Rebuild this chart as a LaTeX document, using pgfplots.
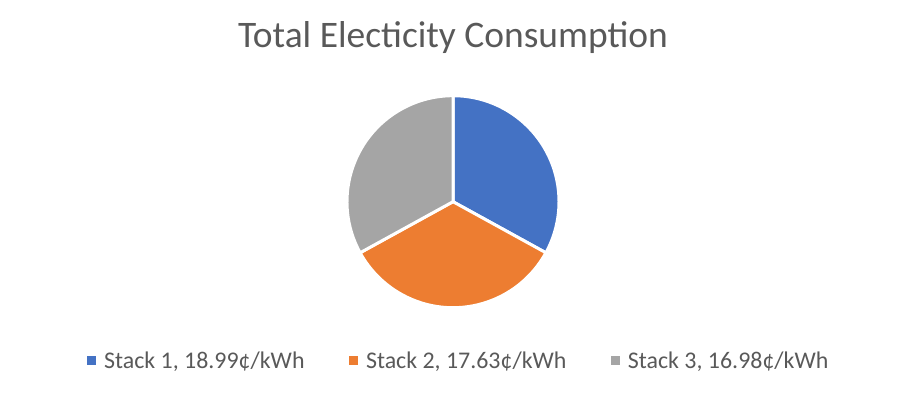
\documentclass[border=0pt]{standalone}
\usepackage{pgfplots}
\usepackage{pgfplotstable}
\usepackage{fontspec}
\setmainfont{Carlito}
\pgfplotsset{compat=1.18}
\definecolor{sOne}{HTML}{4472C4}
\definecolor{sTwo}{HTML}{ED7D31}
\definecolor{sThree}{HTML}{A5A5A5}
\definecolor{txt}{HTML}{595959}
\pgfplotstableread{
stack share
1 0.330
2 0.340
3 0.330
}\piedata
\begin{document}
\begin{tikzpicture}
\pgfplotstablegetelem{0}{share}\of\piedata \let\va\pgfplotsretval
\pgfplotstablegetelem{1}{share}\of\piedata \let\vb\pgfplotsretval
\pgfplotstablegetelem{2}{share}\of\piedata \let\vc\pgfplotsretval
\pgfmathsetmacro{\tot}{\va+\vb+\vc}
\pgfmathsetmacro{\aA}{90-360*\va/\tot}
\pgfmathsetmacro{\aB}{\aA-360*\vb/\tot}
\pgfmathsetmacro{\aC}{\aB-360*\vc/\tot}
\begin{axis}[
  scale only axis, width=907bp, height=394bp,
  xmin=0, xmax=907, ymin=0, ymax=394,
  hide axis, clip=false,
  legend columns=3,
  legend style={at={(0.0926,0.085)}, anchor=west, draw=none, fill=none,
    font=\fontsize{24}{29}\selectfont, text=txt,
    /tikz/every odd column/.append style={column sep=4bp},
    /tikz/every even column/.append style={column sep=40.5bp},
    nodes={inner xsep=4bp}},
  legend image code/.code={\fill[#1] (0bp,-4.5bp) rectangle (9bp,4.5bp);},
]
\addlegendimage{fill=sOne, draw=none}
\addlegendentry{Stack 1, 18.99¢/kWh}
\addlegendimage{fill=sTwo, draw=none}
\addlegendentry{Stack 2, 17.63¢/kWh}
\addlegendimage{fill=sThree, draw=none}
\addlegendentry{Stack 3, 16.98¢/kWh}
\path (axis cs:0,0) rectangle (axis cs:907,394);
\fill[sOne, draw=white, line width=3bp] (axis cs:453,192.3) -- ++(90:106bp) arc[start angle=90, end angle=\aA, radius=106bp] -- cycle;
\fill[sTwo, draw=white, line width=3bp] (axis cs:453,192.3) -- ++(\aA:106bp) arc[start angle=\aA, end angle=\aB, radius=106bp] -- cycle;
\fill[sThree, draw=white, line width=3bp] (axis cs:453,192.3) -- ++(\aB:106bp) arc[start angle=\aB, end angle=\aC, radius=106bp] -- cycle;
\node[anchor=base, font=\fontsize{37.6}{44}\selectfont, text=txt] at (axis cs:453,346.3) {Total Electicity Consumption};
\end{axis}
\end{tikzpicture}
\end{document}
